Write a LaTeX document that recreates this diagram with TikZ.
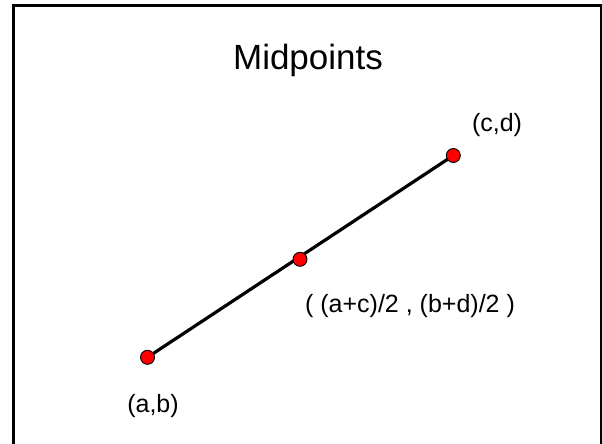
\documentclass[tikz,border=0pt]{standalone}
\usepackage{fontspec}
\setmainfont{Liberation Sans}
\begin{document}
\begin{tikzpicture}[x=1pt,y=-1pt,
  pt/.style={circle,draw=black,line width=0.9pt,fill=red,minimum size=14pt,inner sep=0pt},
  lbl/.style={font=\fontsize{25}{30}\selectfont,anchor=base,inner sep=0pt},
  ttl/.style={font=\fontsize{35}{42}\selectfont,anchor=base,inner sep=0pt}]
\clip (0,0) rectangle (602,444);
\fill[white] (0,0) rectangle (602,444);
\draw[line width=2.5pt] (13.5,5.5) rectangle (601,460);
\node[ttl] (title) at (308,70) {Midpoints};
\coordinate (A) at (147.5,357.3);
\coordinate (M) at (300,259.3);
\coordinate (C) at (453.3,155.5);
\draw[line width=3.2pt] (A) -- (C);
\node[pt] (pa) at (A) {};
\node[pt] (pm) at (M) {};
\node[pt] (pc) at (C) {};
\node[lbl] (la) at (153,412.5) {(a,b)};
\node[lbl] (lc) at (497,131) {(c,d)};
\node[lbl] (lm) at (410,312) {( (a+c)/2 , (b+d)/2 )};
\end{tikzpicture}
\end{document}
